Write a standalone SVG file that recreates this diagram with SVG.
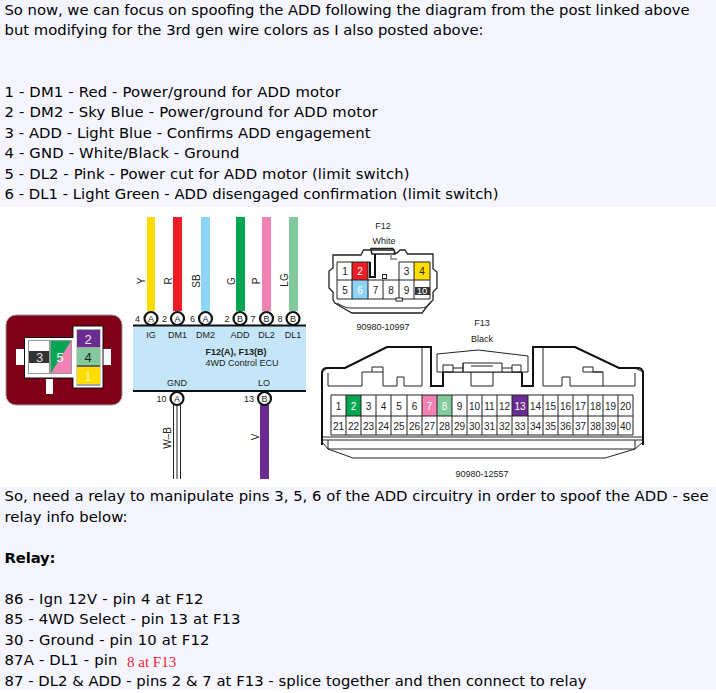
<svg xmlns="http://www.w3.org/2000/svg" width="716" height="693" viewBox="0 0 716 693">
<style>
.t{font:14.8px "DejaVu Sans",Verdana,sans-serif;fill:#000}
.s{font-family:"Liberation Sans",Arial,sans-serif;font-size:9px;fill:#222;text-anchor:middle}
.l{font-family:"Liberation Sans",Arial,sans-serif;font-size:10px;fill:#222;text-anchor:middle}
.n{font-family:"Liberation Sans",Arial,sans-serif;font-size:10px;fill:#222;text-anchor:middle}
.w{fill:#fff;stroke:#222;stroke-width:1}
.o{fill:none;stroke:#222;stroke-width:1}
.k{fill:none;stroke:#111;stroke-width:2}
.c{fill:#fff;stroke:#111;stroke-width:2.200}
</style>
<rect width="716" height="693" fill="#fff"/>
<rect width="716" height="207" fill="#f5f5ff"/>
<rect y="487" width="716" height="203" fill="#f5f5ff"/>
<g id="text-top">
<text class="t" x="4.500" y="15" textLength="685" lengthAdjust="spacing">So now, we can focus on spoofing the ADD following the diagram from the post linked above</text>
<text class="t" x="4.500" y="35" textLength="479" lengthAdjust="spacing">but modifying for the 3rd gen wire colors as I also posted above:</text>
<text class="t" x="4.500" y="97" textLength="336" lengthAdjust="spacing">1 - DM1 - Red - Power/ground for ADD motor</text>
<text class="t" x="4.500" y="117" textLength="373" lengthAdjust="spacing">2 - DM2 - Sky Blue - Power/ground for ADD motor</text>
<text class="t" x="4.500" y="138" textLength="366" lengthAdjust="spacing">3 - ADD - Light Blue - Confirms ADD engagement</text>
<text class="t" x="4.500" y="158" textLength="235" lengthAdjust="spacing">4 - GND - White/Black - Ground</text>
<text class="t" x="4.500" y="179" textLength="405" lengthAdjust="spacing">5 - DL2 - Pink - Power cut for ADD motor (limit switch)</text>
<text class="t" x="4.500" y="199" textLength="494" lengthAdjust="spacing">6 - DL1 - Light Green - ADD disengaged confirmation (limit switch)</text>
</g>
<g id="connectors">
<rect x="147" y="217" width="8" height="94" fill="#ffdd00"/>
<rect x="173" y="217" width="9" height="94" fill="#ee1c25"/>
<rect x="201" y="217" width="9" height="94" fill="#8dd4f6"/>
<rect x="236" y="217" width="9" height="94" fill="#00a651"/>
<rect x="262" y="217" width="9" height="94" fill="#f282b4"/>
<rect x="289" y="217" width="9" height="94" fill="#82ca9c"/>
<path d="M173.500 405V479M177 405V479M180.500 405V479" class="o"/>
<rect x="260" y="405" width="9" height="74" fill="#6b2c91"/>
</g>
<g id="wire-labels">
<text class="l" transform="translate(145 281) rotate(-90)">Y</text>
<text class="l" transform="translate(172 281) rotate(-90)">R</text>
<text class="l" transform="translate(200 281) rotate(-90)">SB</text>
<text class="l" transform="translate(235 281) rotate(-90)">G</text>
<text class="l" transform="translate(260 281) rotate(-90)">P</text>
<text class="l" transform="translate(288 280) rotate(-90)">LG</text>
<text class="l" transform="translate(171 438) rotate(-90)">W–B</text>
<text class="l" transform="translate(259 437) rotate(-90)">V</text>
</g>
<g id="ecu">
<rect x="133" y="325" width="173" height="67" fill="#c5e6f9"/>
<path d="M133 325.500H306M133 391H306" class="k"/>
<text class="s" x="151" y="338">IG</text>
<text class="s" x="177.500" y="338">DM1</text>
<text class="s" x="205.500" y="338">DM2</text>
<text class="s" x="240" y="338">ADD</text>
<text class="s" x="266.500" y="338">DL2</text>
<text class="s" x="293" y="338">DL1</text>
<text x="236" y="355" style="font:bold 9px 'Liberation Sans',Arial,sans-serif;fill:#222;text-anchor:middle">F12(A), F13(B)</text>
<text class="s" x="242" y="366">4WD Control ECU</text>
<text class="s" x="177" y="386">GND</text>
<text class="s" x="264" y="386">LO</text>
</g>
<g id="pins">
<circle class="c" cx="151" cy="318.500" r="6.500"/><text class="s" x="151" y="322">A</text><text class="s" x="137.500" y="322">4</text>
<circle class="c" cx="177.500" cy="318.500" r="6.500"/><text class="s" x="177.500" y="322">A</text><text class="s" x="164.500" y="322">2</text>
<circle class="c" cx="205.500" cy="318.500" r="6.500"/><text class="s" x="205.500" y="322">A</text><text class="s" x="192.500" y="322">6</text>
<circle class="c" cx="240" cy="318.500" r="6.500"/><text class="s" x="240" y="322">B</text><text class="s" x="227" y="322">2</text>
<circle class="c" cx="266.500" cy="318.500" r="6.500"/><text class="s" x="266.500" y="322">B</text><text class="s" x="253" y="322">7</text>
<circle class="c" cx="293" cy="318.500" r="6.500"/><text class="s" x="293" y="322">B</text><text class="s" x="280" y="322">8</text>
<circle class="c" cx="177" cy="398.500" r="6.500"/><text class="s" x="177" y="402">A</text><text class="s" x="161.500" y="402">10</text>
<circle class="c" cx="264.500" cy="398.500" r="6.500"/><text class="s" x="264.500" y="402">B</text><text class="s" x="249" y="402">13</text>
</g>
<g id="add-connector">
<rect x="6" y="315" width="116" height="90" rx="10" fill="#7f0017" stroke="#999" stroke-width="1"/>
<rect x="16" y="349" width="8" height="16" fill="#fff"/>
<rect x="103" y="349" width="8" height="16" fill="#fff"/>
<rect x="46" y="379" width="7" height="15" fill="#fff"/>
<path d="M24.500 337.500H73V326H103V388H73V378H24.500Z" fill="#fff" stroke="#111"/>
<rect x="28.500" y="340.500" width="21" height="33" fill="#fff" stroke="#999"/>
<rect x="29" y="351" width="20" height="12" fill="#333"/>
<rect x="50.500" y="340.500" width="21" height="33" fill="#f282b4" stroke="#999"/>
<path d="M51 341H71L51 373Z" fill="#00a651"/>
<rect x="76.500" y="329" width="24" height="57" fill="#a5a5a5"/>
<rect x="77" y="330" width="23" height="17" fill="#6b2c91"/>
<rect x="77" y="348.500" width="23" height="17" fill="#82ca9c"/>
<rect x="77" y="367" width="23" height="17" fill="#ffdd00"/>
<path d="M77 366H100" stroke="#222" stroke-width="1"/>
<g style="font:13px 'Liberation Sans',Arial,sans-serif;text-anchor:middle">
<text x="39.500" y="362" style="fill:#ddd">3</text>
<text x="60" y="362" style="fill:#fff">5</text>
<text x="88" y="343.500" style="fill:#e8e8e8">2</text>
<text x="88" y="362" style="fill:#222">4</text>
<text x="88" y="380.500" style="fill:#fff4b0">1</text>
</g>
</g>
<g id="F12">
<text class="s" x="383" y="229">F12</text>
<text class="s" x="384" y="244">White</text>
<path d="M333 255H361L363.500 250H370L371 248.500H393L395 253H397L400 250H405L407.500 254H433V269L437 272V288L433 292V300L428 305L422 313H352L343 308L335 303L333 300V292L329 288V271L333 268Z" fill="#fff" stroke="#222" stroke-width="1.300"/>
<path d="M337 303Q345 308 350 308H420Q428 308 431 302" class="o"/>
<rect x="352" y="262" width="16" height="18" fill="#ee1c25"/>
<rect x="414" y="262" width="16" height="18" fill="#ffdd00"/>
<rect x="352" y="280" width="16" height="19" fill="#8dd4f6"/>
<rect x="415" y="287" width="15" height="8" fill="#333"/>
<path d="M337 262H370M399 262H430M337 280H430M337 299H430M337 262V299M352 262V299M368 262V299M383 280V299M399 262V299M414 262V299M430 262V299" class="o"/>
<path d="M375 251V277H370V262" class="k"/>
<path d="M371 250H394L395 254L372 254Z" fill="#fff" stroke="#222" stroke-width="1.500"/>
<path d="M391 254V259H397" fill="none" stroke="#888" stroke-width="1.500"/>
<rect x="382.500" y="274.500" width="4" height="4" class="w"/>
<rect x="396" y="298" width="6.500" height="3" class="w"/>
<g class="n">
<text x="345" y="275">1</text><text x="360" y="275" style="fill:#fff">2</text><text x="406.500" y="275">3</text><text x="422" y="275">4</text>
<text x="345" y="293.500">5</text><text x="360" y="293.500" style="fill:#fff">6</text><text x="375.500" y="293.500">7</text><text x="391" y="293.500">8</text><text x="406.500" y="293.500">9</text><text x="422" y="293.500" style="fill:#fff;font-size:9.500px">10</text>
</g>
<text class="s" x="383" y="330">90980-10997</text>
</g>
<g id="F13">
<text class="s" x="482" y="326">F13</text>
<text class="s" x="482" y="342">Black</text>
<path d="M322 372V442L328 449L353 458H605L635 449L643 442V372L635 368H619L575 347H533V386H522V372H443V386H431V347H387L345 368H327Z" fill="#fff" stroke="#222" stroke-width="1"/>
<path d="M322 445V372Q323 368 327 368H345L387 347H431V386H443V372M643 445V372Q642 368 638 368H619L575 347H533V386H522V372" class="k"/>
<path d="M437 372V354L478 350L528 356V372Z" fill="#fff" stroke="#222"/>
<path d="M443 372V365H453V372ZM512 372V365H521V372ZM453 368H463M502 368H512M463 372V363H502V372M471 366H493M471 372V386H493V372M463 363V372" class="o"/>
<path d="M328 373V386H362V372H372V367H383V386H397V377H404V386H422V347M543 347V386H562V377H570V386H603V372H593V367H583V372H603M603 386H635V373M372 372H383" class="o"/>
<rect x="331" y="395" width="302" height="40" fill="#fff"/>
<rect x="346" y="395" width="15" height="21" fill="#00a651"/>
<rect x="422" y="395" width="15" height="21" fill="#f282b4"/>
<rect x="437" y="395" width="15" height="21" fill="#82ca9c"/>
<rect x="512" y="395" width="16" height="21" fill="#6b2c91"/>
<path d="M331 395H633M331 416H633M331 435H633M331 395V435M346 395V435M361 395V435M376 395V435M391 395V435M407 395V435M422 395V435M437 395V435M452 395V435M467 395V435M482 395V435M497 395V435M512 395V435M528 395V435M543 395V435M558 395V435M573 395V435M588 395V435M603 395V435M618 395V435M633 395V435" class="o"/>
<path d="M322 437H643M322 440H643M328 440V449H635V440" class="o"/>
<g class="n">
<text x="338.500" y="409.500">1</text><text x="353.500" y="409.500" style="fill:#fff">2</text><text x="368.500" y="409.500">3</text><text x="383.500" y="409.500">4</text><text x="399" y="409.500">5</text><text x="414.500" y="409.500">6</text><text x="429.500" y="409.500" style="fill:#fff">7</text><text x="444.500" y="409.500" style="fill:#fff">8</text><text x="459.500" y="409.500">9</text><text x="474.500" y="409.500">10</text><text x="489.500" y="409.500">11</text><text x="504.500" y="409.500">12</text><text x="520" y="409.500" style="fill:#fff">13</text><text x="535.500" y="409.500">14</text><text x="550.500" y="409.500">15</text><text x="565.500" y="409.500">16</text><text x="580.500" y="409.500">17</text><text x="595.500" y="409.500">18</text><text x="610.500" y="409.500">19</text><text x="625.500" y="409.500">20</text>
<text x="338.500" y="429.500">21</text><text x="353.500" y="429.500">22</text><text x="368.500" y="429.500">23</text><text x="383.500" y="429.500">24</text><text x="399" y="429.500">25</text><text x="414.500" y="429.500">26</text><text x="429.500" y="429.500">27</text><text x="444.500" y="429.500">28</text><text x="459.500" y="429.500">29</text><text x="474.500" y="429.500">30</text><text x="489.500" y="429.500">31</text><text x="504.500" y="429.500">32</text><text x="520" y="429.500">33</text><text x="535.500" y="429.500">34</text><text x="550.500" y="429.500">35</text><text x="565.500" y="429.500">36</text><text x="580.500" y="429.500">37</text><text x="595.500" y="429.500">38</text><text x="610.500" y="429.500">39</text><text x="625.500" y="429.500">40</text>
</g>
<text class="s" x="482" y="477">90980-12557</text>
</g>
<g id="text-bottom">
<text class="t" x="4.500" y="501" textLength="704" lengthAdjust="spacing">So, need a relay to manipulate pins 3, 5, 6 of the ADD circuitry in order to spoof the ADD - see</text>
<text class="t" x="4.500" y="522" textLength="123" lengthAdjust="spacing">relay info below:</text>
<text class="t" x="4.500" y="563" textLength="51" lengthAdjust="spacing" style="font-weight:bold">Relay:</text>
<text class="t" x="4.500" y="604" textLength="199" lengthAdjust="spacing">86 - Ign 12V - pin 4 at F12</text>
<text class="t" x="4.500" y="624" textLength="236" lengthAdjust="spacing">85 - 4WD Select - pin 13 at F13</text>
<text class="t" x="4.500" y="645" textLength="205" lengthAdjust="spacing">30 - Ground - pin 10 at F12</text>
<text class="t" x="4.500" y="665" textLength="113" lengthAdjust="spacing">87A - DL1 - pin</text>
<text x="127" y="667" style="font:15px 'Liberation Serif','Times New Roman',serif;fill:#ee2233">8 at F13</text>
<text class="t" x="4.500" y="686" textLength="582" lengthAdjust="spacing">87 - DL2 &amp; ADD - pins 2 &amp; 7 at F13 - splice together and then connect to relay</text>
</g>
</svg>
